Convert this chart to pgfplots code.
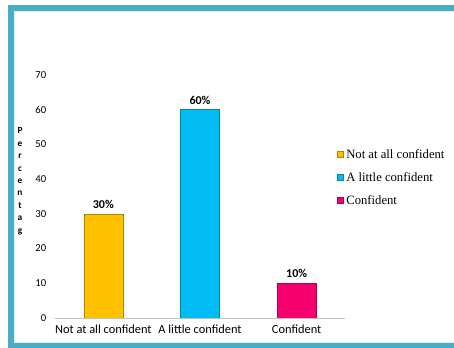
\documentclass[border=0pt]{standalone}
\usepackage{fontspec}
\setmainfont{Carlito}
\newfontfamily\legfont{Liberation Serif}
\usepackage{pgfplots}
\pgfplotsset{compat=1.18}
\definecolor{frame}{HTML}{4AACC5}
\definecolor{framelight}{HTML}{DAEEF3}
\definecolor{cyel}{HTML}{FFC000}
\definecolor{cyeld}{HTML}{B08400}
\definecolor{cblu}{HTML}{00BCF2}
\definecolor{cblud}{HTML}{0088B5}
\definecolor{cpnk}{HTML}{F5006C}
\definecolor{cpnkd}{HTML}{B0004C}
\begin{document}
\begin{tikzpicture}
\path[use as bounding box] (0,0) rectangle (340.5pt,-261pt);
\fill[white] (0,0) rectangle (340.5pt,-261pt);
\fill[frame] (6pt,-3.75pt) rectangle (340.5pt,-8.25pt);
\fill[frame] (6pt,-3.75pt) rectangle (10.5pt,-261pt);
\fill[frame] (6pt,-257.25pt) rectangle (340.5pt,-261pt);
\draw[framelight,line width=0.75pt] (10.9pt,-8.65pt) -- (340.5pt,-8.65pt);
\draw[framelight,line width=0.75pt] (10.9pt,-8.65pt) -- (10.9pt,-256.85pt);
\draw[framelight,line width=0.75pt] (10.9pt,-256.85pt) -- (340.5pt,-256.85pt);
\begin{axis}[
  at={(41.25pt,-238.5pt)}, anchor=south west,
  scale only axis, width=217.5pt, height=182.25pt,
  ymin=0, ymax=70, xmin=-0.5, xmax=2.5,
  ytick={0,10,...,70},
  xtick={0,1,2},
  xticklabels={Not at all confident, A little confident, Confident},
  axis x line*=bottom, axis y line*=left,
  y axis line style={draw=none},
  x axis line style={draw=black!25, line width=0.6pt, -},
  major tick length=0pt,
  yticklabel style={font=\fontsize{8}{9.6}\selectfont, xshift=-3pt},
  xticklabel style={font=\fontsize{9.3}{11}\selectfont, yshift=-2pt},
  /pgf/number format/assume math mode=true,
  ybar, bar width=29.25pt, bar shift=0pt,
  nodes near coords={\pgfmathprintnumber{\pgfplotspointmeta}\%},
  every node near coord/.append style={font=\bfseries\fontsize{9}{10.8}\selectfont, yshift=0.5pt},
  legend style={at={(axis description cs:0.972,0.705)}, anchor=north west,
    draw=none, fill=none, font=\legfont\fontsize{9.5}{11}\selectfont,
    row sep=5pt, inner sep=0pt},
  legend cell align=left,
  legend image code/.code={\draw[#1] (0pt,-2pt) rectangle (4.5pt,2.5pt);},
]
\addplot[fill=cyel, draw=cyeld] coordinates {(0,30)};
\addplot[fill=cblu, draw=cblud] coordinates {(1,60)};
\addplot[fill=cpnk, draw=cpnkd] coordinates {(2,10)};
\legend{Not at all confident, A little confident, Confident}
\end{axis}
\node[font=\bfseries\fontsize{7}{9.3}\selectfont, align=center, anchor=center] at (15pt,-136pt) {P\\e\\r\\c\\e\\n\\t\\a\\g};
\end{tikzpicture}
\end{document}
